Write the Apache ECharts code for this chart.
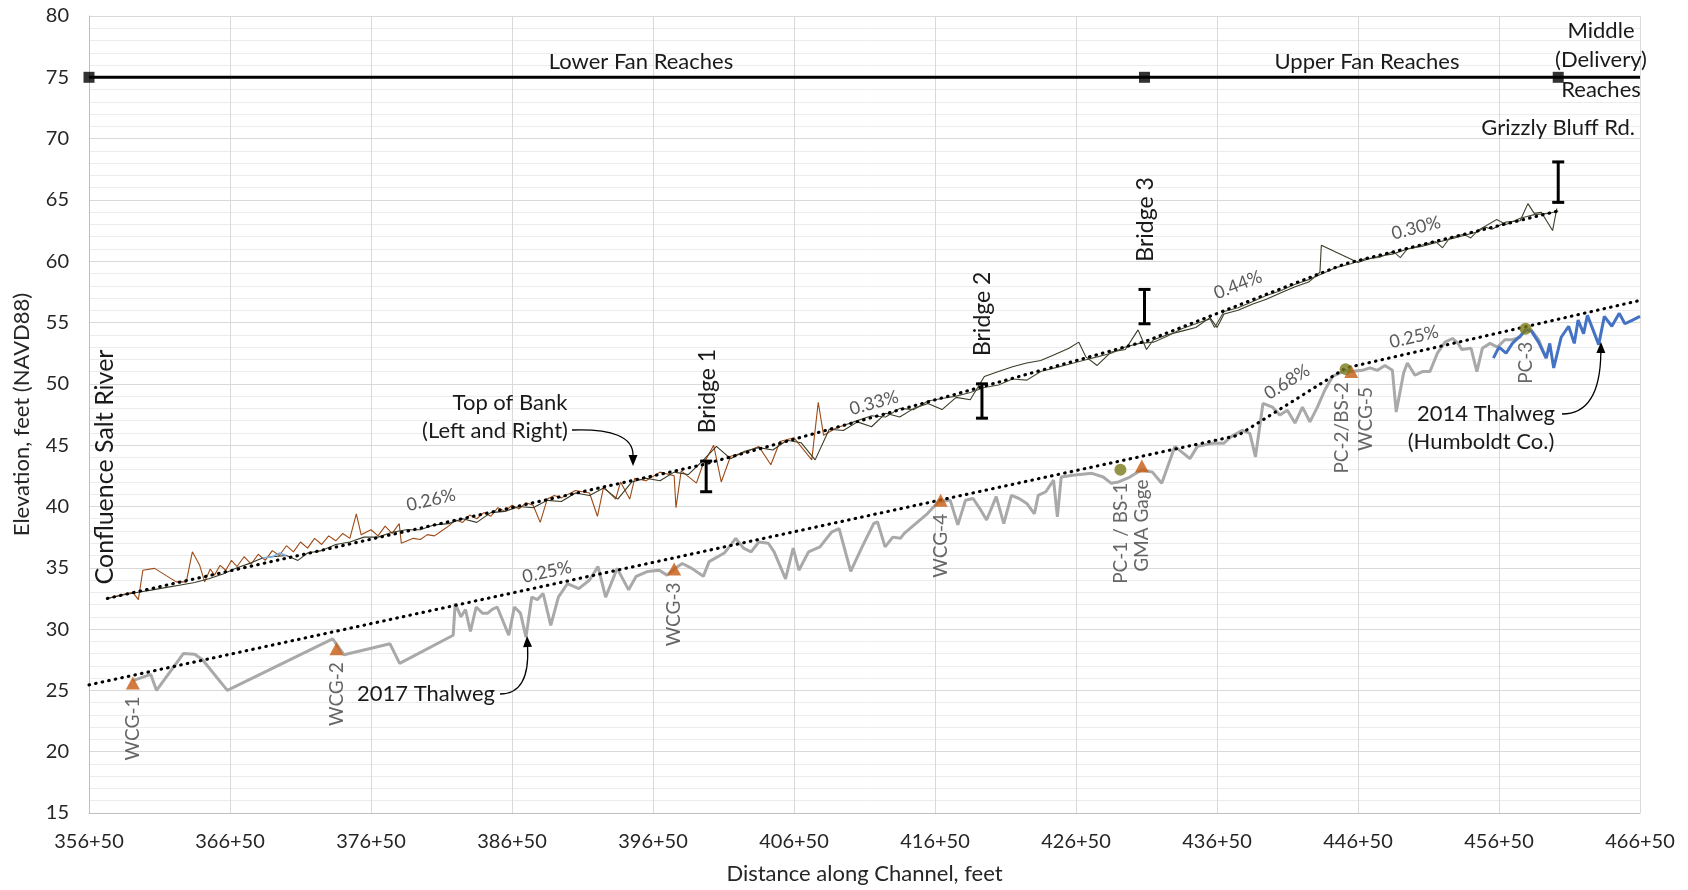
<!DOCTYPE html>
<html><head><meta charset="utf-8">
<script src="https://cdn.jsdelivr.net/npm/echarts@6/dist/echarts.min.js"></script>
<style>html,body{margin:0;padding:0;background:#fff}#c{width:1688px;height:890px}</style>
</head><body><div id="c"></div>
<script>
// ---------------- DATA (x = station in feet, y = elevation in feet NAVD88) ----------------
const xTickMin = 35650, xTickMax = 46650, xStep = 1000;
const yMin = 15, yMax = 80, yStep = 5;

// Top of bank, left bank (brown in lower reach)
const bankLeftLower = [[35780,32.5],[35880,32.8],[35960,33.0],[36000,32.4],[36032,34.8],[36115,34.95],[36269,33.85],[36340,33.85],[36383,36.3],[36435,35.2],[36470,33.85],[36510,34.9],[36540,34.4],[36580,35.2],[36620,34.8],[36660,35.6],[36700,35.1],[36750,35.9],[36800,35.3],[36850,36.1],[36900,35.6],[36950,36.4],[37000,36.0],[37050,36.8],[37100,36.3],[37150,37.1],[37200,36.6],[37250,37.4],[37300,36.9],[37350,37.6],[37400,37.2],[37450,37.8],[37500,37.4],[37546,39.4],[37580,37.7],[37650,38.1],[37700,37.6],[37750,38.4],[37800,37.8],[37850,38.6],[37865,37.0],[37950,37.4],[38000,37.3],[38050,37.7],[38100,37.6],[38150,38.0],[38200,38.4],[38250,38.9],[38300,38.7],[38350,39.3],[38400,39.0],[38450,39.5],[38500,39.2],[38550,39.9],[38600,39.6],[38650,40.1],[38700,39.8],[38750,40.3],[38800,40.1],[38850,38.7],[38900,40.6],[38950,40.9],[39000,40.7],[39100,41.3],[39200,41.1],[39256,39.2],[39300,41.6],[39385,40.6],[39420,42.0],[39485,40.6],[39520,42.3],[39600,42.1],[39700,42.8],[39800,42.5],[39813,39.9],[39850,42.9],[39958,41.9],[40000,43.3],[40080,45.0],[40134,42.0],[40200,44.1],[40300,44.4],[40400,44.9],[40486,43.4],[40550,45.3],[40650,45.6],[40776,43.8],[40822,48.5],[40860,45.8],[40950,46.4],[41000,46.6]];
// Top of bank, left bank (upper reach)
const bankLeftUpper = [[41000,46.6],[41100,47.0],[41200,47.4],[41300,47.3],[41400,48.0],[41500,47.9],[41600,48.6],[41700,48.8],[41800,49.0],[41900,49.3],[42000,49.7],[42100,49.9],[42200,50.4],[42300,50.3],[42400,51.0],[42500,51.3],[42600,51.6],[42700,51.9],[42800,52.2],[42900,52.5],[43000,53.0],[43100,53.3],[43200,53.4],[43300,53.9],[43400,54.5],[43500,54.9],[43600,55.3],[43633,54.6],[43700,55.9],[43800,56.2],[43900,56.7],[44000,57.2],[44100,57.6],[44200,58.1],[44300,58.5],[44400,59.0],[44500,59.5],[44600,59.8],[44700,60.2],[44800,60.3],[44900,60.8],[44950,60.3],[45000,61.0],[45100,61.3],[45200,61.6],[45250,61.1],[45300,61.9],[45400,62.2],[45450,61.9],[45500,62.5],[45634,63.4],[45700,63.0],[45800,63.5],[45900,63.8],[46000,63.9],[46070,64.1]];
// Top of bank, right bank
const bankRight = [[35780,32.5],[35900,32.8],[36000,33.0],[36100,33.2],[36200,33.4],[36300,33.6],[36400,33.8],[36500,34.1],[36600,34.5],[36700,35.0],[36800,35.4],[36880,35.8],[36950,35.9],[37050,36.0],[37132,35.6],[37200,36.2],[37300,36.4],[37400,36.9],[37500,37.1],[37600,37.5],[37700,37.5],[37800,37.9],[37900,38.1],[38000,38.1],[38100,38.5],[38200,38.6],[38300,39.0],[38400,38.7],[38500,39.5],[38600,39.6],[38700,40.0],[38800,39.9],[38900,40.5],[39000,40.4],[39100,41.1],[39200,40.9],[39300,41.5],[39400,40.6],[39500,42.0],[39600,42.3],[39700,42.1],[39800,42.8],[39900,42.6],[40000,43.7],[40100,44.9],[40200,43.9],[40300,44.5],[40400,44.8],[40500,44.6],[40600,45.4],[40700,45.2],[40800,43.8],[40900,46.3],[41000,46.2],[41100,46.9],[41200,46.5],[41300,47.6],[41400,47.3],[41500,48.0],[41600,48.4],[41700,47.9],[41800,48.9],[41900,48.7],[42000,50.6],[42100,51.0],[42200,51.4],[42300,51.7],[42400,51.9],[42500,52.4],[42600,52.9],[42670,53.4],[42720,52.2],[42800,51.5],[42900,52.6],[43000,52.8],[43090,54.4],[43150,52.8],[43200,53.6],[43300,54.0],[43400,54.3],[43500,54.6],[43600,55.4],[43650,54.6],[43700,55.7],[43800,56.0],[43900,56.5],[44000,56.9],[44100,57.4],[44200,57.9],[44300,58.3],[44380,59.1],[44390,61.3],[44650,59.9],[44700,60.1],[44800,60.4],[44900,60.6],[45000,61.0],[45100,61.2],[45200,61.5],[45300,61.8],[45400,62.1],[45500,62.4],[45550,62.8],[45600,62.6],[45700,63.2],[45800,63.3],[45855,64.7],[45900,63.9],[45950,64.0],[46030,62.5],[46060,64.3]];
// small light-blue bank segment
const bankBlue = [[36880,35.8],[36950,35.9],[37000,36.2],[37050,36.0]];

// 2017 thalweg
const thalweg2017 = [[35961,25.8],[36088,26.3],[36129,25.0],[36319,28.0],[36400,27.95],[36455,27.5],[36631,25.0],[37378,29.2],[37459,27.9],[37785,28.8],[37853,27.2],[38233,29.5],[38247,32.1],[38288,31.0],[38320,31.6],[38355,29.8],[38396,31.8],[38440,31.3],[38478,31.3],[38510,31.6],[38545,31.8],[38627,29.5],[38667,31.8],[38710,31.3],[38749,29.35],[38790,32.6],[38830,32.4],[38871,32.9],[38925,30.3],[38979,32.6],[39043,33.7],[39124,33.3],[39200,34.0],[39260,35.1],[39314,32.6],[39396,34.95],[39477,33.2],[39531,34.3],[39613,34.7],[39694,34.8],[39749,34.4],[39800,34.9],[39858,35.35],[39925,34.95],[40007,34.3],[40048,35.5],[40156,36.2],[40237,37.4],[40292,36.6],[40346,36.3],[40400,37.1],[40468,37.0],[40509,36.3],[40590,34.1],[40644,36.6],[40685,34.8],[40753,36.3],[40834,36.7],[40916,37.9],[40970,38.2],[41052,34.7],[41133,36.7],[41215,38.6],[41242,38.75],[41296,36.7],[41351,37.5],[41405,37.4],[41432,37.8],[41513,38.6],[41595,39.4],[41676,40.4],[41758,40.5],[41812,38.5],[41866,40.5],[41920,40.65],[41975,39.7],[42016,38.9],[42084,40.8],[42138,38.6],[42192,40.9],[42246,40.65],[42301,40.25],[42355,39.4],[42382,40.9],[42436,41.2],[42491,42.15],[42518,39.15],[42545,42.4],[42626,42.55],[42763,42.7],[42843,42.4],[42898,41.9],[42952,42.0],[43032,42.4],[43117,43.0],[43192,42.8],[43258,41.9],[43351,44.9],[43458,43.9],[43511,44.9],[43617,45.15],[43697,45.15],[43750,45.7],[43830,46.2],[43883,45.96],[43923,44.05],[43976,48.4],[44043,48.1],[44096,47.45],[44149,47.85],[44203,46.8],[44256,48.1],[44309,46.9],[44362,48.1],[44415,49.5],[44469,50.6],[44522,50.9],[44562,51.1],[44602,51.0],[44681,51.1],[44735,51.3],[44788,51.1],[44841,51.5],[44894,51.1],[44921,47.7],[44974,50.9],[45000,51.7],[45054,50.7],[45107,51.0],[45160,51.0],[45213,52.5],[45267,53.4],[45320,53.7],[45360,53.3],[45386,52.8],[45452,52.9],[45493,51.0],[45532,52.9],[45586,53.3],[45639,53.0],[45692,53.6],[45745,53.6],[45799,53.8],[45838,54.45],[45878,54.4],[45931,53.6],[45984,52.1]];
// 2014 thalweg (Humboldt Co.)
const thalweg2014 = [[45610,52.1],[45650,53.0],[45700,52.5],[45745,53.3],[45800,53.9],[45840,54.4],[45880,54.3],[45930,53.4],[45985,52.1],[46010,53.3],[46038,51.3],[46091,53.8],[46144,54.7],[46184,53.3],[46211,55.2],[46250,54.1],[46277,55.6],[46317,54.4],[46357,53.2],[46397,55.5],[46450,54.7],[46503,55.75],[46543,54.9],[46597,55.2],[46650,55.5]];

// Fitted slope lines (break points)
const trendBank = [[35780,32.5],[40000,43.4],[43150,53.5],[44560,59.8],[46070,64.1]];
const trendThalweg = [[35650,25.45],[43800,45.8],[44565,51.3],[46650,56.8]];

// Reach boundaries (elevation 75 reference line)
const reachY = 75;
const reachBounds = [35650, 43136, 46070];

// Bridges: station, low chord, high chord
const bridgeNames = ['Bridge 1','Bridge 2','Bridge 3','Grizzly Bluff Rd.'];
const bridgeX = [40027, 41983, 43136, 46070];
const bridgeLow = [41.2, 47.2, 54.9, 64.8];
const bridgeHigh = [43.7, 50.0, 57.7, 68.1];

// Gauges
const wcgNames = ['WCG-1','WCG-2','WCG-3','WCG-4','GMA Gage','WCG-5'];
const wcgX = [35961, 37405, 39800, 41690, 43117, 44602];
const wcgY = [25.6, 28.4, 34.9, 40.5, 43.3, 51.0];
const pcNames = ['PC-1 / BS-1','PC-2/BS-2','PC-3'];
const pcX = [42965, 44562, 45838];
const pcY = [43.0, 51.2, 54.5];

// ---------------- CHART ----------------
const FONT = 'Lato, "Open Sans", sans-serif';
const chart = echarts.init(document.getElementById('c'), null, {renderer:'canvas'});
const stationFmt = v => Math.floor(v/100) + '+' + String(Math.round(v%100)).padStart(2,'0');
const DOT = {color:'#000', width:3.1, type:[0.6,6.1], cap:'round'};

function lineSeries(name, data, color, width, extra) {
  return Object.assign({
    name, type:'line', data, symbol:'none', clip:false, animation:false,
    lineStyle:{color, width}, silent:true
  }, extra || {});
}
const markerLabel = {show:true, formatter:p=>p.name, rotate:90, position:'bottom', distance:7,
  align:'right', verticalAlign:'middle', fontSize:19, color:'#404040', fontFamily:FONT};

const option = {
  animation:false,
  backgroundColor:'#ffffff',
  textStyle:{fontFamily:FONT},
  grid:{left:89, right:48, top:16, bottom:77},
  xAxis:{
    type:'value', min:xTickMin, max:xTickMax, interval:xStep,
    name:'Distance along Channel, feet', nameLocation:'middle', nameGap:50,
    nameTextStyle:{fontSize:22, color:'#262626', fontFamily:FONT},
    axisLine:{show:true, lineStyle:{color:'#bfbfbf', width:1}},
    axisTick:{show:false},
    axisLabel:{formatter:stationFmt, fontSize:20, color:'#262626', margin:19, fontFamily:FONT},
    splitLine:{show:true, lineStyle:{color:'#d9d9d9', width:1}}
  },
  yAxis:{
    type:'value', min:yMin, max:yMax, interval:yStep,
    name:'Elevation, feet (NAVD88)', nameLocation:'middle', nameGap:56, nameRotate:90,
    nameTextStyle:{fontSize:22, color:'#262626', fontFamily:FONT},
    axisLine:{show:true, lineStyle:{color:'#bfbfbf', width:1}},
    axisTick:{show:false},
    axisLabel:{fontSize:20, color:'#262626', margin:20, fontFamily:FONT},
    splitLine:{show:true, lineStyle:{color:'#d9d9d9', width:1.2}},
    minorTick:{show:false, splitNumber:5},
    minorSplitLine:{show:true, lineStyle:{color:'#ececec', width:1}}
  },
  series:[
    lineSeries('Top of Bank Left (lower)', bankLeftLower, '#9e4a16', 1.1),
    lineSeries('Top of Bank Right', bankRight, '#3b3b28', 1.1),
    lineSeries('Top of Bank Left (upper)', bankLeftUpper, '#4d4d3a', 1.1),
    lineSeries('Bank segment', bankBlue, '#7fb2e0', 1.5),
    lineSeries('2017 Thalweg', thalweg2017, '#a9a9a9', 3, {z:3}),
    lineSeries('2014 Thalweg', thalweg2014, '#4472c4', 3, {z:3}),
    lineSeries('Bank slope', trendBank, '#000', 3, {z:4, lineStyle:DOT}),
    lineSeries('Thalweg slope', trendThalweg, '#000', 3, {z:4, lineStyle:DOT}),
    lineSeries('Reach line', [[xTickMin,reachY],[xTickMax,reachY]], '#000', 3, {z:5}),
    {name:'Reach bounds', type:'scatter', clip:false, silent:true, z:6,
     data: reachBounds.map(x=>[x,reachY]), symbol:'rect', symbolSize:11, itemStyle:{color:'#000'}},
    {name:'Bridges', type:'custom', clip:false, silent:true, z:6,
     data: bridgeX.map((x,i)=>[x,bridgeLow[i],bridgeHigh[i]]),
     encode:{x:0, y:[1,2]},
     renderItem:(params, api)=>{
       const a = api.coord([api.value(0), api.value(1)]);
       const b = api.coord([api.value(0), api.value(2)]);
       const w = 6, st = {stroke:'#000', lineWidth:3};
       return {type:'group', children:[
         {type:'line', shape:{x1:a[0],y1:a[1],x2:b[0],y2:b[1]}, style:st},
         {type:'line', shape:{x1:a[0]-w,y1:a[1],x2:a[0]+w,y2:a[1]}, style:st},
         {type:'line', shape:{x1:b[0]-w,y1:b[1],x2:b[0]+w,y2:b[1]}, style:st}
       ]};
     }},
    {name:'WCG', type:'scatter', clip:false, silent:true, z:7,
     data: wcgX.map((x,i)=>({name:wcgNames[i], value:[x,wcgY[i]],
        label: wcgNames[i]==='WCG-5' ? {offset:[-2,15]} : {}})),
     symbol:'triangle', symbolSize:[14,13], itemStyle:{color:'#c55a11'},
     label:markerLabel},
    {name:'PC', type:'scatter', clip:false, silent:true, z:8,
     data: pcX.map((x,i)=>({name:pcNames[i], value:[x,pcY[i]],
        label: pcNames[i]==='PC-2/BS-2' ? {offset:[0,-4]} : {}})),
     symbol:'circle', symbolSize:12, itemStyle:{color:'#7a7a1c'},
     label:markerLabel}
  ]
};
chart.setOption(option);

// ---------------- ANNOTATIONS ----------------
function txt(text, x, y, opts) {
  opts = opts || {};
  return {type:'text', x, y, rotation:(opts.rot||0)*Math.PI/180, z:20, silent:true,
    style:{text, fontSize:opts.size||22, fill:opts.color||'#1a1a1a', fontFamily:FONT,
           align:opts.align||'center', verticalAlign:'middle'}};
}
function arrow(x1,y1,cx,cy,x2,y2) {
  const ang = Math.atan2(y2-cy, x2-cx), L=11, W=4.5;
  const bx = x2 - L*Math.cos(ang), by = y2 - L*Math.sin(ang);
  const px = -Math.sin(ang)*W, py = Math.cos(ang)*W;
  return [
    {type:'bezierCurve', z:20, silent:true, shape:{x1,y1,x2:bx,y2:by,cpx1:cx,cpy1:cy}, style:{stroke:'#000', lineWidth:1.3, fill:null}},
    {type:'polygon', z:20, silent:true, shape:{points:[[x2,y2],[bx+px,by+py],[bx-px,by-py]]}, style:{fill:'#000'}}
  ];
}
const P = (x,y) => chart.convertToPixel({gridIndex:0}, [x,y]);
const slopeAngle = (x1,y1,x2,y2) => { const a=P(x1,y1), b=P(x2,y2); return Math.atan2(a[1]-b[1], b[0]-a[0])*180/Math.PI; };

const g = [];
g.push(txt('Lower Fan Reaches', 641, 62));
g.push(txt('Upper Fan Reaches', 1367, 62));
g.push(txt('Middle', 1601, 31));
g.push(txt('(Delivery)', 1601, 60));
g.push(txt('Reaches', 1601, 90));
bridgeNames.forEach((n,i)=>{
  const top = P(bridgeX[i], bridgeHigh[i]);
  if (i === 3) g.push(txt(n, top[0], top[1]-34));
  else g.push(txt(n, top[0]+1, top[1]-70, {rot:90, size:23}));
});
g.push(txt('Confluence Salt River', 105, 467, {rot:90, size:25}));
g.push(txt('Top of Bank', 510, 403));
g.push(txt('(Left and Right)', 495, 431));
g.push(txt('2017 Thalweg', 426, 694));
g.push(txt('2014 Thalweg', 1486, 414));
g.push(txt('(Humboldt Co.)', 1481, 442));
const pc = {color:'#595959', size:18};
g.push(txt('0.26%', 431, 500, Object.assign({rot:slopeAngle(35780,32.5,40000,43.4)}, pc)));
g.push(txt('0.33%', 874, 403, Object.assign({rot:slopeAngle(40000,43.4,43150,53.5)}, pc)));
g.push(txt('0.44%', 1238, 285, Object.assign({rot:slopeAngle(43150,53.5,44560,59.8)}, pc)));
g.push(txt('0.30%', 1416, 228, Object.assign({rot:slopeAngle(44560,59.8,46070,64.1)}, pc)));
g.push(txt('0.25%', 547, 572, Object.assign({rot:slopeAngle(35650,25.45,43800,45.8)}, pc)));
g.push(txt('0.68%', 1287, 382, Object.assign({rot:slopeAngle(43800,45.8,44565,51.3)}, pc)));
g.push(txt('0.25%', 1414, 337, Object.assign({rot:slopeAngle(44565,51.3,46650,56.8)}, pc)));
arrow(572,430, 633,428, 633,466).forEach(e=>g.push(e));
arrow(500,694, 530,694, 527,636).forEach(e=>g.push(e));
arrow(1562,414, 1600,414, 1601,342).forEach(e=>g.push(e));
chart.setOption({graphic:{elements:g}});
</script></body></html>
